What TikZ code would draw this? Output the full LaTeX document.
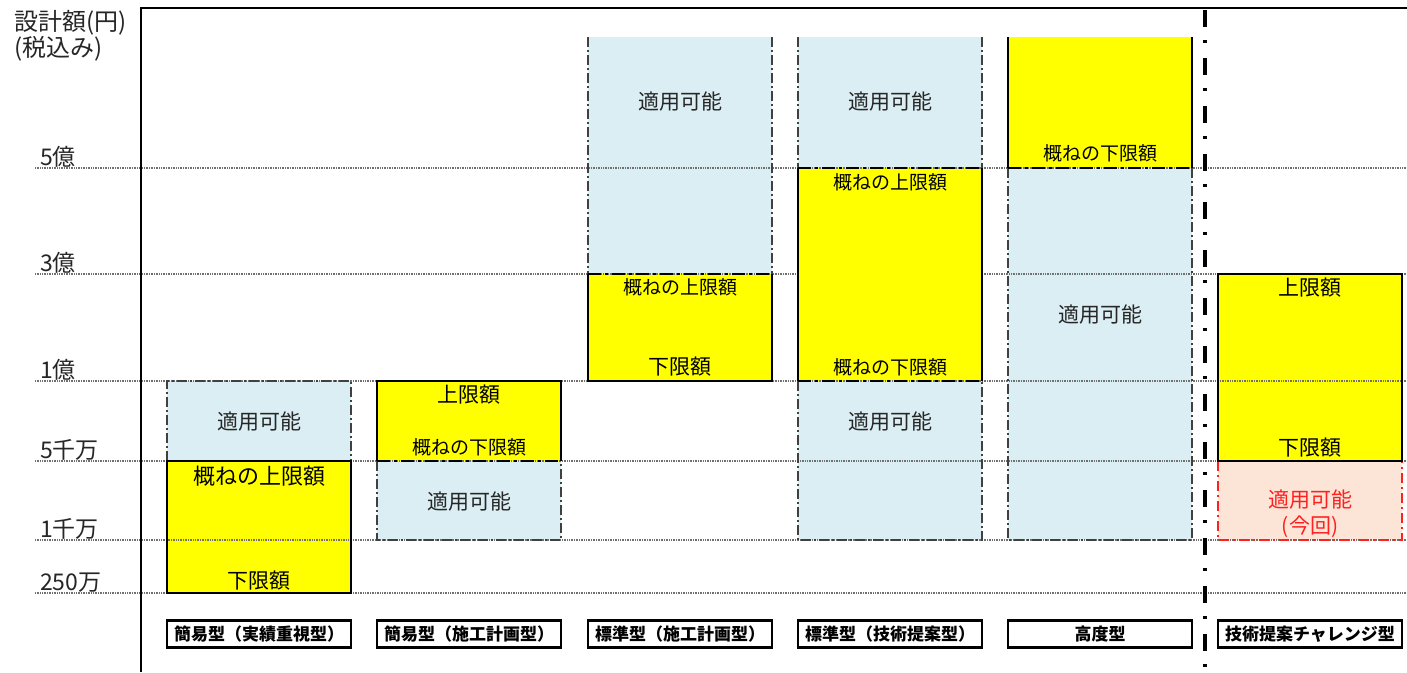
\documentclass[tikz,border=0pt]{standalone}
\usepackage{fontspec}
\setmainfont{Noto Sans CJK JP}
\definecolor{lblue}{HTML}{DAEEF3}
\definecolor{ylw}{HTML}{FFFF00}
\definecolor{pinkc}{HTML}{FCE4D6}
\definecolor{rd}{HTML}{FF2020}
\definecolor{gridc}{HTML}{707070}
\definecolor{edge}{HTML}{404040}
\definecolor{txt}{HTML}{262626}
\begin{document}
\begin{tikzpicture}[x=1pt,y=-1pt,
  ddot/.style={draw=edge,line width=1.1pt,dash pattern=on 10pt off 3pt on 2pt off 3pt},
  ydot/.style={draw=black,line width=2.2pt,dash pattern=on 13pt off 4pt on 3pt off 4pt},
  ysolid/.style={draw=black,line width=2.6pt,line join=miter},
  rdot/.style={draw=rd,line width=1.4pt,dash pattern=on 10pt off 4pt on 2pt off 4pt},
  gridline/.style={draw=gridc,line width=1.2pt,dash pattern=on 1pt off 0.7pt},
  sep/.style={draw=black,line width=4pt,dash pattern=on 17pt off 13pt on 3pt off 15pt},
  frame/.style={draw=black,line width=2pt},
  ok/.style={font=\fontsize{21}{24}\selectfont,text=txt,inner sep=0pt},
  okr/.style={font=\fontsize{21}{24}\selectfont,text=rd,inner sep=0pt},
  yt/.style={font=\fontsize{19}{22}\selectfont,text=black,inner sep=0pt},
  ytb/.style={font=\fontsize{21}{24}\selectfont,text=black,inner sep=0pt},
  axl/.style={font=\fontsize{23}{25}\selectfont,text=txt,anchor=base west,inner sep=0pt},
  lbl/.style={draw=black,line width=2.2pt,minimum width=184pt,minimum height=27pt,inner sep=0pt,font=\fontsize{17}{19}\selectfont\bfseries,text=black}
]
\useasboundingbox (0,0) rectangle (1407,672);
\fill[white] (0,0) rectangle (1407,672);

% ---- fills
\fill[lblue] (167,381) rectangle (351,461);
\fill[ylw] (167,461) rectangle (351,593);
\fill[ylw] (377,381) rectangle (561,461);
\fill[lblue] (377,461) rectangle (561,540);
\fill[lblue] (588,37) rectangle (772,274);
\fill[ylw] (588,274) rectangle (772,381);
\fill[lblue] (798,37) rectangle (982,168);
\fill[ylw] (798,168) rectangle (982,381);
\fill[lblue] (798,381) rectangle (982,540);
\fill[ylw] (1008,37) rectangle (1192,168);
\fill[lblue] (1008,168) rectangle (1192,540);
\fill[ylw] (1218,274) rectangle (1402,461);
\fill[pinkc] (1218,461) rectangle (1402,540);

% ---- grid lines
\foreach \yy in {168,274,381,461,540,593}
  \draw[gridline] (35,\yy) -- (1407,\yy);
\fill[ylw] (799,170) rectangle (981,379);

% ---- borders
% column 1
\draw[ddot] (167,461) -- (167,381) -- (351,381) -- (351,461);
\draw[ysolid] (167,461) rectangle (351,593);
% column 2
\draw[ddot] (377,461) -- (377,540) -- (561,540) -- (561,461);
\draw[ydot] (377,461) -- (561,461);
\draw[ysolid] (377,461) -- (377,381) -- (561,381) -- (561,461);
% column 3
\draw[ddot] (588,37) -- (588,274);
\draw[ddot] (772,37) -- (772,274);
\draw[ydot] (588,274) -- (772,274);
\draw[ysolid] (588,274) -- (588,381) -- (772,381) -- (772,274);
% column 4
\draw[ddot] (798,37) -- (798,168);
\draw[ddot] (982,37) -- (982,168);
\draw[ddot] (798,381) -- (798,540) -- (982,540) -- (982,381);
\draw[ydot] (798,168) -- (982,168);
\draw[ydot] (798,381) -- (982,381);
\draw[ysolid] (798,168) -- (798,381);
\draw[ysolid] (982,168) -- (982,381);
% column 5
\draw[ddot] (1008,168) -- (1008,540) -- (1192,540) -- (1192,168);
\draw[ydot] (1008,168) -- (1192,168);
\draw[ysolid] (1008,37) -- (1008,168);
\draw[ysolid] (1192,37) -- (1192,168);
% column 6
\draw[rdot] (1218,461) -- (1218,540) -- (1402,540) -- (1402,461);
\draw[ysolid] (1218,274) rectangle (1402,461);

% ---- frame and separator
\draw[frame] (140,8) -- (1407,8);
\draw[frame] (141,8) -- (141,672);
\coordinate (septop) at (1205,10);
\coordinate (sepbot) at (1205,672);
\draw[sep] (septop) -- (sepbot);

% ---- axis labels
\node[font=\fontsize{24}{26}\selectfont,text=txt,anchor=north west,inner sep=0pt,align=left] (ax0) at (14,10) {設計額(円)\\(税込み)};
\node[axl] (a5oku) at (40,165) {5億};
\node[axl] (a3oku) at (40,271) {3億};
\node[axl] (a1oku) at (40,378) {1億};
\node[axl] (a5sen) at (40,458) {5千万};
\node[axl] (a1sen) at (40,537) {1千万};
\node[axl] (a250) at (40,590) {250万};

% ---- texts in columns
\node[ok] (t1a) at (259,422) {適用可能};
\node[font=\fontsize{22}{24}\selectfont,inner sep=0pt] (t1b) at (259,476) {概ねの上限額};
\node[ytb] (t1c) at (259,581) {下限額};

\node[ytb] (t2a) at (469,395) {上限額};
\node[yt] (t2b) at (469,447) {概ねの下限額};
\node[ok] (t2c) at (469,502) {適用可能};

\node[ok] (t3a) at (680,102) {適用可能};
\node[yt] (t3b) at (680,287) {概ねの上限額};
\node[ytb] (t3c) at (680,367) {下限額};

\node[ok] (t4a) at (890,102) {適用可能};
\node[yt] (t4b) at (890,182) {概ねの上限額};
\node[yt] (t4c) at (890,367) {概ねの下限額};
\node[ok] (t4d) at (890,422) {適用可能};

\node[yt] (t5a) at (1100,153) {概ねの下限額};
\node[ok] (t5b) at (1100,315) {適用可能};

\node[ytb] (t6a) at (1310,288) {上限額};
\node[ytb] (t6b) at (1310,448) {下限額};
\node[okr] (t6c) at (1310,500) {適用可能};
\node[okr] (t6d) at (1310,527) {(今回)};

% ---- category labels
\node[lbl] (l1) at (259,634) {簡易型（実績重視型）};
\node[lbl] (l2) at (469,634) {簡易型（施工計画型）};
\node[lbl] (l3) at (680,634) {標準型（施工計画型）};
\node[lbl] (l4) at (890,634) {標準型（技術提案型）};
\node[lbl] (l5) at (1100,634) {高度型};
\node[lbl] (l6) at (1310,634) {技術提案チャレンジ型};
\end{tikzpicture}
\end{document}
